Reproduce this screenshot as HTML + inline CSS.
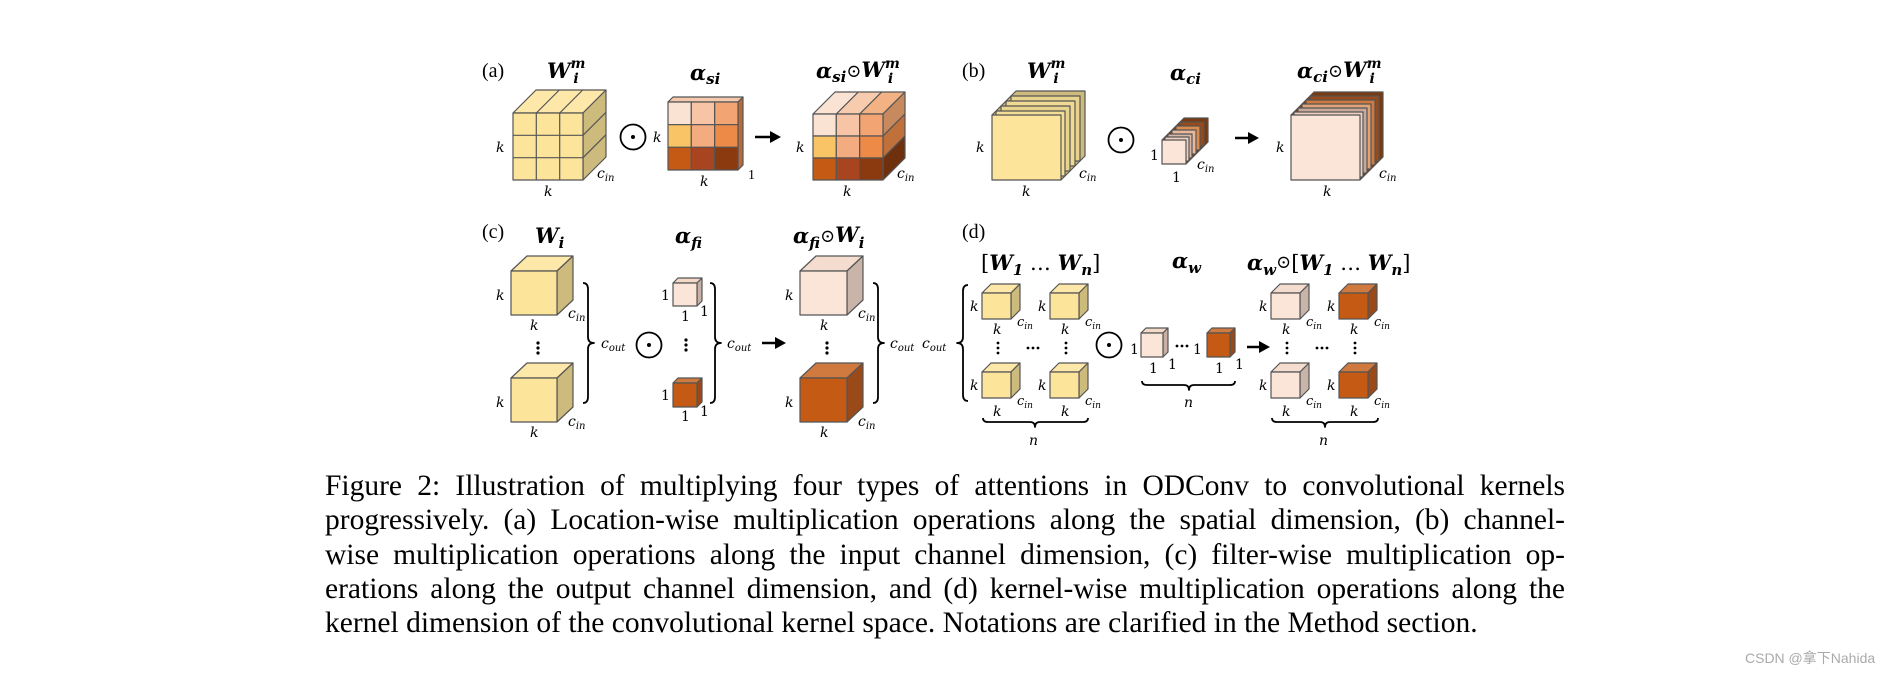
<!DOCTYPE html>
<html><head><meta charset="utf-8">
<style>
html,body{margin:0;padding:0;background:#fff;}
body{width:1888px;height:673px;position:relative;overflow:hidden;}
svg{position:absolute;left:0;top:0;}
.cap{position:absolute;left:325px;top:469px;width:1240px;font-family:"Liberation Serif",serif;font-size:29.5px;line-height:34.3px;color:#000;}
.cap div{text-align:justify;text-align-last:justify;white-space:nowrap;}
.cap div.last{text-align-last:left;}
.wm{position:absolute;left:1745px;top:648px;font-family:"Liberation Sans","Noto Sans CJK SC",sans-serif;font-size:14px;color:#aaa;}
.t{font-family:"Liberation Serif",serif;}
.m{font-family:"DejaVu Serif",serif;font-style:italic;}
.b{font-family:"DejaVu Serif",serif;font-style:italic;font-weight:bold;font-size:21px;}
</style></head><body>
<svg width="1888" height="673" viewBox="0 0 1888 673" stroke-linejoin="round">
<g stroke="#555" stroke-width="1.2">
<polygon points="513,113 536,90 606,90 583,113" fill="#FDE8AA"/>
<polygon points="583,113 606,90 606,157 583,180" fill="#CDBA7D"/>
<rect x="513" y="113" width="70" height="67" fill="#FDE49B"/>
<path d="M536.3,113V180M559.7,113V180M513,135.3H583M513,157.7H583M536.3,113L559.3,90M559.7,113L582.7,90M583,135.3L606,112.3M583,157.7L606,134.7" fill="none"/>
<polygon points="668,102 673,97 743,97 738,102" fill="#F4C9AE"/>
<polygon points="738,102 743,97 743,165 738,170" fill="#B86A3A"/>
<rect x="668" y="102" width="23.3" height="22.7" fill="#FBE3D4"/><rect x="691.3" y="102" width="23.3" height="22.7" fill="#F7C5A6"/><rect x="714.7" y="102" width="23.3" height="22.7" fill="#F2A572"/>
<rect x="668" y="124.7" width="23.3" height="22.7" fill="#F9C465"/><rect x="691.3" y="124.7" width="23.3" height="22.7" fill="#F2AC80"/><rect x="714.7" y="124.7" width="23.3" height="22.7" fill="#ED8A48"/>
<rect x="668" y="147.3" width="23.3" height="22.7" fill="#C55A15"/><rect x="691.3" y="147.3" width="23.3" height="22.7" fill="#A84520"/><rect x="714.7" y="147.3" width="23.3" height="22.7" fill="#8A3A0E"/>
<polygon points="813,114 835,92 858.3,92 836.3,114" fill="#FBE3D4"/>
<polygon points="836.3,114 858.3,92 881.7,92 859.7,114" fill="#F7CBAE"/>
<polygon points="859.7,114 881.7,92 905,92 883,114" fill="#F3B283"/>
<polygon points="883,114 905,92 905,114 883,136" fill="#C68A5E"/>
<polygon points="883,136 905,114 905,136 883,158" fill="#C0703A"/>
<polygon points="883,158 905,136 905,158 883,180" fill="#6E300D"/>
<rect x="813" y="114" width="23.3" height="22" fill="#FBE3D4"/><rect x="836.3" y="114" width="23.3" height="22" fill="#F7C5A6"/><rect x="859.7" y="114" width="23.3" height="22" fill="#F2A572"/>
<rect x="813" y="136" width="23.3" height="22" fill="#F9C465"/><rect x="836.3" y="136" width="23.3" height="22" fill="#F2AC80"/><rect x="859.7" y="136" width="23.3" height="22" fill="#ED8A48"/>
<rect x="813" y="158" width="23.3" height="22" fill="#C55A15"/><rect x="836.3" y="158" width="23.3" height="22" fill="#A84520"/><rect x="859.7" y="158" width="23.3" height="22" fill="#8A3A0E"/>
<g fill="#FDE49B">
<polygon points="992,115 1016,91 1085,91 1085,156 1061,180" fill="#CDBA7D"/>
<rect x="1011" y="96" width="69" height="65" fill="#E8D48D"/>
<rect x="1006" y="101" width="69" height="65" fill="#F0DA92"/>
<rect x="1001" y="106" width="69" height="65" fill="#E8D48D"/>
<rect x="996" y="111" width="69" height="65" fill="#F5DD95"/>
<rect x="992" y="115" width="69" height="65"/>
</g>
<polygon points="1162,140 1184,118 1208,118 1208,142 1186,164" fill="#7A3A10"/>
<rect x="1180" y="122" width="24" height="24" fill="#9A4A18"/>
<rect x="1176" y="126" width="24" height="24" fill="#D98B50"/>
<rect x="1172" y="130" width="24" height="24" fill="#E9B79A"/>
<rect x="1168" y="134" width="24" height="24" fill="#D8B8A8"/>
<rect x="1165" y="137" width="24" height="24" fill="#F0D0C0"/>
<rect x="1162" y="140" width="24" height="24" fill="#FBE4D8"/>
<polygon points="1291,115 1314,92 1383,92 1383,157 1360,180" fill="#7A3A10"/>
<rect x="1310" y="96" width="69" height="65" fill="#9A4A18"/>
<rect x="1306" y="100" width="69" height="65" fill="#D07A40"/>
<rect x="1302" y="104" width="69" height="65" fill="#E0A478"/>
<rect x="1298" y="108" width="69" height="65" fill="#C8A898"/>
<rect x="1294" y="112" width="69" height="65" fill="#F0D0C0"/>
<rect x="1291" y="115" width="69" height="65" fill="#FBE4D8"/>
</g>
<g stroke="#555" stroke-width="1.2">
<polygon points="511,271 527,256 573,256 557,271" fill="#FDE8AA"/><polygon points="557,271 573,256 573,300 557,315" fill="#CDBA7D"/><rect x="511" y="271" width="46" height="44" fill="#FDE49B"/>
<polygon points="511,378 527,363 573,363 557,378" fill="#FDE8AA"/><polygon points="557,378 573,363 573,407 557,422" fill="#CDBA7D"/><rect x="511" y="378" width="46" height="44" fill="#FDE49B"/>
<polygon points="673,283 678,278 702,278 697,283" fill="#F4D8C8"/><polygon points="697,283 702,278 702,301 697,306" fill="#C8B0A4"/><rect x="673" y="283" width="24" height="23" fill="#FBE4D8"/>
<polygon points="673,383 678,378 702,378 697,383" fill="#D07A40"/><polygon points="697,383 702,378 702,402 697,407" fill="#9A4A18"/><rect x="673" y="383" width="24" height="24" fill="#C55A15"/>
<polygon points="800,271 816,256 863,256 847,271" fill="#F4DCCE"/><polygon points="847,271 863,256 863,300 847,315" fill="#C8B4A8"/><rect x="800" y="271" width="47" height="44" fill="#FBE4D8"/>
<polygon points="800,378 816,363 863,363 847,378" fill="#D07A40"/><polygon points="847,378 863,363 863,407 847,422" fill="#9A4A18"/><rect x="800" y="378" width="47" height="44" fill="#C55A15"/>
<g fill="#FDE49B">
<polygon points="982,293 991,284 1020,284 1011,293" fill="#FDE8AA"/><polygon points="1011,293 1020,284 1020,310 1011,319" fill="#CDBA7D"/><rect x="982" y="293" width="29" height="26"/>
<polygon points="1050,293 1059,284 1088,284 1079,293" fill="#FDE8AA"/><polygon points="1079,293 1088,284 1088,310 1079,319" fill="#CDBA7D"/><rect x="1050" y="293" width="29" height="26"/>
<polygon points="982,372 991,363 1020,363 1011,372" fill="#FDE8AA"/><polygon points="1011,372 1020,363 1020,389 1011,398" fill="#CDBA7D"/><rect x="982" y="372" width="29" height="26"/>
<polygon points="1050,372 1059,363 1088,363 1079,372" fill="#FDE8AA"/><polygon points="1079,372 1088,363 1088,389 1079,398" fill="#CDBA7D"/><rect x="1050" y="372" width="29" height="26"/>
</g>
<polygon points="1141,333 1146,328 1168,328 1163,333" fill="#F4D8C8"/><polygon points="1163,333 1168,328 1168,352 1163,357" fill="#C8B0A4"/><rect x="1141" y="333" width="22" height="24" fill="#FBE4D8"/>
<polygon points="1207,333 1212,328 1235,328 1230,333" fill="#D07A40"/><polygon points="1230,333 1235,328 1235,352 1230,357" fill="#9A4A18"/><rect x="1207" y="333" width="23" height="24" fill="#C55A15"/>
<polygon points="1271,293 1280,284 1309,284 1300,293" fill="#F4DCCE"/><polygon points="1300,293 1309,284 1309,310 1300,319" fill="#C8B4A8"/><rect x="1271" y="293" width="29" height="26" fill="#FBE4D8"/>
<polygon points="1271,372 1280,363 1309,363 1300,372" fill="#F4DCCE"/><polygon points="1300,372 1309,363 1309,389 1300,398" fill="#C8B4A8"/><rect x="1271" y="372" width="29" height="26" fill="#FBE4D8"/>
<polygon points="1339,293 1348,284 1377,284 1368,293" fill="#D07A40"/><polygon points="1368,293 1377,284 1377,310 1368,319" fill="#9A4A18"/><rect x="1339" y="293" width="29" height="26" fill="#C55A15"/>
<polygon points="1339,372 1348,363 1377,363 1368,372" fill="#D07A40"/><polygon points="1368,372 1377,363 1377,389 1368,398" fill="#9A4A18"/><rect x="1339" y="372" width="29" height="26" fill="#C55A15"/>
</g>
<g fill="none" stroke="#000" stroke-width="1.8">
<circle cx="633" cy="137" r="12.5"/><circle cx="1121" cy="140" r="12.5"/><circle cx="649" cy="345" r="12.5"/><circle cx="1109" cy="345" r="12.5"/>
</g>
<g fill="#000"><circle cx="633" cy="137" r="2"/><circle cx="1121" cy="140" r="2"/><circle cx="649" cy="345" r="2"/><circle cx="1109" cy="345" r="2"/></g>
<g stroke="#000" stroke-width="2.5"><line x1="755" y1="137" x2="772" y2="137"/><line x1="1235" y1="138" x2="1250" y2="138"/><line x1="762" y1="343" x2="777" y2="343"/><line x1="1247" y1="347" x2="1261" y2="347"/></g>
<g fill="#000"><polygon points="770,131 781,137 770,143"/><polygon points="1248,132 1259,138 1248,144"/><polygon points="775,337 786,343 775,349"/><polygon points="1259,341 1270,347 1259,353"/></g>
<g fill="none" stroke="#000" stroke-width="1.8">
<path d="M583,283 q5,0 5,6 v48 q0,6 6,6 q-6,0 -6,6 v48 q0,6 -5,6"/>
<path d="M710,283 q5,0 5,6 v48 q0,6 6,6 q-6,0 -6,6 v48 q0,6 -5,6"/>
<path d="M873,283 q5,0 5,6 v48 q0,6 6,6 q-6,0 -6,6 v48 q0,6 -5,6"/>
<path d="M968,285 q-5,0 -5,6 v46 q0,6 -6,6 q6,0 6,6 v46 q0,6 5,6"/>
<path d="M983,418 q0,4 5,4 h42 q5,0 5,5 q0,-5 5,-5 h43 q5,0 5,-4"/>
<path d="M1142,381 q0,4 5,4 h37 q5,0 5,5 q0,-5 5,-5 h36 q5,0 5,-4"/>
<path d="M1272,418 q0,4 5,4 h43 q5,0 5,5 q0,-5 5,-5 h43 q5,0 5,-4"/>
</g>
<g class="t" font-size="20"><text x="482" y="77">(a)</text><text x="962" y="77">(b)</text><text x="482" y="238">(c)</text><text x="962" y="238">(d)</text></g>
<g class="b">
<text x="547" y="78">W<tspan font-size="14" dy="-10" dx="0">m</tspan><tspan font-size="14" dy="15" dx="-12">i</tspan></text>
<text x="690" y="80">α<tspan font-size="15" dy="4">si</tspan></text>
<text x="816" y="78">α<tspan font-size="15" dy="4">si</tspan><tspan font-weight="normal" font-style="normal" font-size="18" dy="-5">⊙</tspan>W<tspan font-size="14" dy="-9">m</tspan><tspan font-size="14" dy="15" dx="-12">i</tspan></text>
<text x="1027" y="78">W<tspan font-size="14" dy="-10">m</tspan><tspan font-size="14" dy="15" dx="-12">i</tspan></text>
<text x="1170" y="80">α<tspan font-size="15" dy="4">ci</tspan></text>
<text x="1297" y="78">α<tspan font-size="15" dy="4">ci</tspan><tspan font-weight="normal" font-style="normal" font-size="18" dy="-5">⊙</tspan>W<tspan font-size="14" dy="-9">m</tspan><tspan font-size="14" dy="15" dx="-12">i</tspan></text>
<text x="535" y="243">W<tspan font-size="15" dy="5">i</tspan></text>
<text x="675" y="243">α<tspan font-size="15" dy="5">fi</tspan></text>
<text x="793" y="243">α<tspan font-size="15" dy="5">fi</tspan><tspan font-weight="normal" font-style="normal" font-size="18" dy="-6">⊙</tspan>W<tspan font-size="15" dy="6">i</tspan></text>
<text x="981" y="270"><tspan font-style="normal" font-weight="normal">[</tspan>W<tspan font-size="15" dy="5">1</tspan><tspan dy="-5" font-weight="normal" font-style="normal"> … </tspan>W<tspan font-size="15" dy="5">n</tspan><tspan dy="-5" font-style="normal" font-weight="normal">]</tspan></text>
<text x="1172" y="268">α<tspan font-size="15" dy="5">w</tspan></text>
<text x="1247" y="270">α<tspan font-size="15" dy="5">w</tspan><tspan font-weight="normal" font-style="normal" font-size="18" dy="-7">⊙</tspan><tspan dy="2" font-style="normal" font-weight="normal">[</tspan>W<tspan font-size="15" dy="5">1</tspan><tspan dy="-5" font-weight="normal" font-style="normal"> … </tspan>W<tspan font-size="15" dy="5">n</tspan><tspan dy="-5" font-style="normal" font-weight="normal">]</tspan></text>
</g>
<g class="m" font-size="14">
<text x="496" y="152">k</text><text x="544" y="196">k</text><text x="597" y="178">c<tspan font-size="10" dy="3">in</tspan></text>
<text x="653" y="142">k</text><text x="700" y="186">k</text><text x="748" y="179" font-style="normal" class="t">1</text>
<text x="796" y="152">k</text><text x="843" y="196">k</text><text x="897" y="178">c<tspan font-size="10" dy="3">in</tspan></text>
<text x="976" y="152">k</text><text x="1022" y="196">k</text><text x="1079" y="178">c<tspan font-size="10" dy="3">in</tspan></text>
<text x="1150" y="160" font-style="normal">1</text><text x="1172" y="182" font-style="normal">1</text><text x="1197" y="169">c<tspan font-size="10" dy="3">in</tspan></text>
<text x="1276" y="152">k</text><text x="1323" y="196">k</text><text x="1379" y="178">c<tspan font-size="10" dy="3">in</tspan></text>
<text x="496" y="300">k</text><text x="530" y="330">k</text><text x="568" y="318">c<tspan font-size="10" dy="3">in</tspan></text>
<text x="496" y="407">k</text><text x="530" y="437">k</text><text x="568" y="426">c<tspan font-size="10" dy="3">in</tspan></text>
<text x="601" y="348">c<tspan font-size="10" dy="3">out</tspan></text>
<text x="661" y="300" font-style="normal">1</text><text x="681" y="321" font-style="normal">1</text><text x="700" y="316" font-style="normal">1</text>
<text x="661" y="400" font-style="normal">1</text><text x="681" y="421" font-style="normal">1</text><text x="700" y="416" font-style="normal">1</text>
<text x="727" y="348">c<tspan font-size="10" dy="3">out</tspan></text>
<text x="785" y="300">k</text><text x="820" y="330">k</text><text x="858" y="318">c<tspan font-size="10" dy="3">in</tspan></text>
<text x="785" y="407">k</text><text x="820" y="437">k</text><text x="858" y="426">c<tspan font-size="10" dy="3">in</tspan></text>
<text x="890" y="348">c<tspan font-size="10" dy="3">out</tspan></text><text x="922" y="348">c<tspan font-size="10" dy="3">out</tspan></text>
<text x="970" y="311">k</text><text x="1038" y="311">k</text><text x="1017" y="326" font-size="13">c<tspan font-size="9" dy="3">in</tspan></text><text x="1085" y="326" font-size="13">c<tspan font-size="9" dy="3">in</tspan></text>
<text x="993" y="334">k</text><text x="1061" y="334">k</text>
<text x="970" y="390">k</text><text x="1038" y="390">k</text><text x="1017" y="405" font-size="13">c<tspan font-size="9" dy="3">in</tspan></text><text x="1085" y="405" font-size="13">c<tspan font-size="9" dy="3">in</tspan></text>
<text x="993" y="416">k</text><text x="1061" y="416">k</text>
<text x="1029" y="445">n</text><text x="1184" y="407">n</text><text x="1319" y="445">n</text>
<text x="1130" y="354" font-style="normal">1</text><text x="1149" y="373" font-style="normal">1</text><text x="1168" y="369" font-style="normal">1</text>
<text x="1193" y="354" font-style="normal">1</text><text x="1215" y="373" font-style="normal">1</text><text x="1235" y="369" font-style="normal">1</text>
<text x="1259" y="311">k</text><text x="1327" y="311">k</text><text x="1306" y="326" font-size="13">c<tspan font-size="9" dy="3">in</tspan></text><text x="1374" y="326" font-size="13">c<tspan font-size="9" dy="3">in</tspan></text>
<text x="1282" y="334">k</text><text x="1350" y="334">k</text>
<text x="1259" y="390">k</text><text x="1327" y="390">k</text><text x="1306" y="405" font-size="13">c<tspan font-size="9" dy="3">in</tspan></text><text x="1374" y="405" font-size="13">c<tspan font-size="9" dy="3">in</tspan></text>
<text x="1282" y="416">k</text><text x="1350" y="416">k</text>
</g>
<g fill="#000">
<circle cx="538" cy="343" r="1.6"/><circle cx="538" cy="348" r="1.6"/><circle cx="538" cy="353" r="1.6"/>
<circle cx="686" cy="340" r="1.6"/><circle cx="686" cy="345" r="1.6"/><circle cx="686" cy="350" r="1.6"/>
<circle cx="827" cy="343" r="1.6"/><circle cx="827" cy="348" r="1.6"/><circle cx="827" cy="353" r="1.6"/>
<circle cx="998" cy="343" r="1.4"/><circle cx="998" cy="348" r="1.4"/><circle cx="998" cy="353" r="1.4"/>
<circle cx="1066" cy="343" r="1.4"/><circle cx="1066" cy="348" r="1.4"/><circle cx="1066" cy="353" r="1.4"/>
<circle cx="1287" cy="343" r="1.4"/><circle cx="1287" cy="348" r="1.4"/><circle cx="1287" cy="353" r="1.4"/>
<circle cx="1355" cy="343" r="1.4"/><circle cx="1355" cy="348" r="1.4"/><circle cx="1355" cy="353" r="1.4"/>
<circle cx="1028" cy="348" r="1.4"/><circle cx="1033" cy="348" r="1.4"/><circle cx="1038" cy="348" r="1.4"/>
<circle cx="1317" cy="348" r="1.4"/><circle cx="1322" cy="348" r="1.4"/><circle cx="1327" cy="348" r="1.4"/>
<circle cx="1177" cy="346" r="1.4"/><circle cx="1182" cy="346" r="1.4"/><circle cx="1187" cy="346" r="1.4"/>
</g>
</svg>
<div class="cap">
<div>Figure 2: Illustration of multiplying four types of attentions in ODConv to convolutional kernels</div>
<div>progressively. (a) Location-wise multiplication operations along the spatial dimension, (b) channel-</div>
<div>wise multiplication operations along the input channel dimension, (c) filter-wise multiplication op-</div>
<div>erations along the output channel dimension, and (d) kernel-wise multiplication operations along the</div>
<div class="last">kernel dimension of the convolutional kernel space. Notations are clarified in the Method section.</div>
</div>
<div class="wm">CSDN @拿下Nahida</div>
</body></html>
